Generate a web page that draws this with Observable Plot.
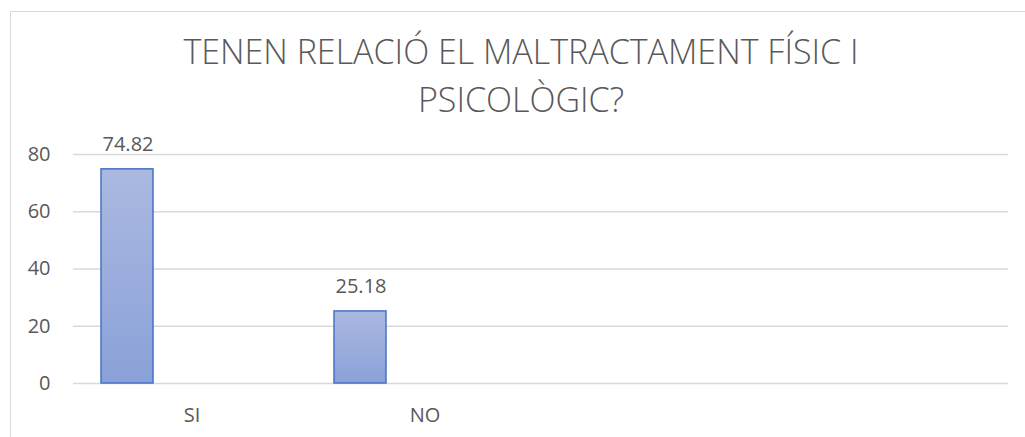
<!DOCTYPE html>
<html>
<head>
<meta charset="utf-8">
<script src="https://cdn.jsdelivr.net/npm/d3@7"></script>
<script src="https://cdn.jsdelivr.net/npm/@observablehq/plot@0.6"></script>
<style>
  html, body { margin: 0; padding: 0; background: #ffffff; overflow: hidden; }
  #chart { position: relative; width: 1025px; height: 437px; overflow: hidden; font-family: "Open Sans", sans-serif; }
  #chart svg { position: absolute; left: 0; top: 0; }
  .title { position: absolute; left: 0; top: 28px; width: 1042px; text-align: center; font-family: "Open Sans", sans-serif; font-weight: 300; font-size: 34px; line-height: 47.5px; color: #595959; margin: 0; }
  .frame { position: absolute; left: 10px; top: 11px; width: 1100px; height: 600px; border: 1px solid #d9d9d9; pointer-events: none; }
</style>
</head>
<body>
<div id="chart"></div>
<script>
// ---- data ----
const categories = ["SI", "NO"];
const values = [74.82, 25.18];
const emptySlots = ["", " "];          // unlabeled category slots on the axis
const yTicks = [0, 20, 40, 60, 80];
const titleLines = ["TENEN RELACIÓ EL MALTRACTAMENT FÍSIC I", "PSICOLÒGIC?"];

const data = categories.map((c, i) => ({cat: c, value: values[i]}));
const xDomain = [...categories, ...emptySlots];

const chart = Plot.plot({
  width: 1025,
  height: 437,
  marginTop: 154,
  marginBottom: 54,
  marginLeft: 73,
  marginRight: 17,
  style: {background: "transparent", fontFamily: "Open Sans, sans-serif", fontSize: "20px", color: "#595959", overflow: "visible"},
  x: {domain: xDomain, padding: 0, label: null},
  y: {domain: [0, 80], label: null},
  marks: [
    Plot.ruleY(yTicks, {stroke: "#d9d9d9", strokeWidth: 1.3}),
    Plot.axisY({ticks: yTicks, tickSize: 0, tickPadding: 23, label: null, fill: "#595959"}),
    Plot.axisX({tickSize: 0, tickPadding: 24, label: null, fill: "#595959", tickFormat: d => d.trim()}),
    Plot.barY(data, {x: "cat", y: "value", insetLeft: 26, insetRight: 155, fill: "url(#barGrad)", stroke: "#4472c4", strokeWidth: 1.5}),
    Plot.text(data, {x: "cat", y: "value", text: d => d.value.toFixed(2), dx: -64, dy: -18, lineAnchor: "bottom", fill: "#595959"})
  ]
});

// gradient definition for the bars
const svg = d3.select(chart);
const grad = svg.insert("defs", ":first-child").append("linearGradient")
  .attr("id", "barGrad").attr("x1", 0).attr("y1", 0).attr("x2", 0).attr("y2", 1);
grad.append("stop").attr("offset", "0%").attr("stop-color", "#abb9e1");
grad.append("stop").attr("offset", "100%").attr("stop-color", "#8aa1d8");

const root = document.getElementById("chart");
root.appendChild(chart);
const title = document.createElement("div");
title.className = "title";
title.innerHTML = titleLines.join("<br>");
root.appendChild(title);
const frame = document.createElement("div");
frame.className = "frame";
root.appendChild(frame);
</script>
</body>
</html>
